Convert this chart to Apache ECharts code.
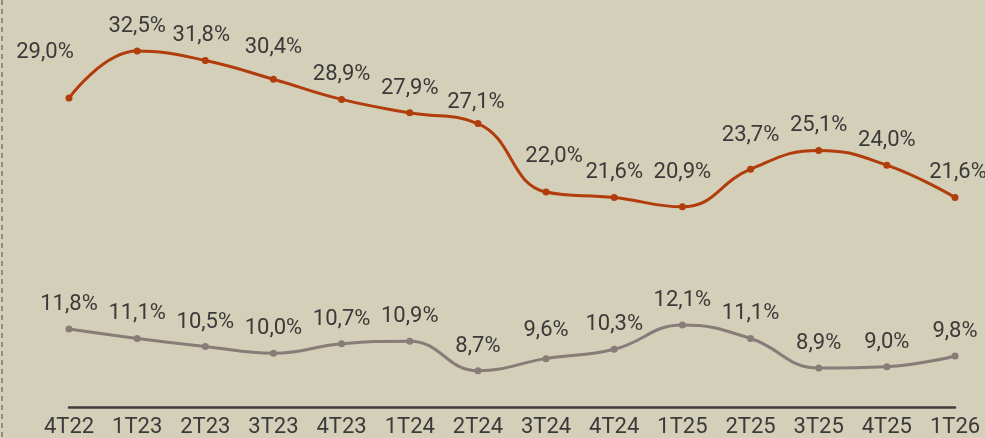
<!DOCTYPE html>
<html>
<head>
<meta charset="utf-8">
<script src="https://cdn.jsdelivr.net/npm/echarts@6/dist/echarts.min.js"></script>
<style>
html,body{margin:0;padding:0;background:#d4cfb8;}
#c{width:985px;height:438px;}
</style>
</head>
<body>
<div id="c"></div>
<script>
const categories = ['4T22','1T23','2T23','3T23','4T23','1T24','2T24','3T24','4T24','1T25','2T25','3T25','4T25','1T26'];
const seriesA = [29.0,32.5,31.8,30.4,28.9,27.9,27.1,22.0,21.6,20.9,23.7,25.1,24.0,21.6];
const seriesB = [11.8,11.1,10.5,10.0,10.7,10.9,8.7,9.6,10.3,12.1,11.1,8.9,9.0,9.8];

// label adjustments (style only)
const labelOffsetA = {0:[-24,-21], 2:[-4,0], 3:[0,-7], 6:[-2,3], 7:[8,-11], 9:[0,-10], 10:[0,-9], 13:[3,0]};
const labelOffsetB = {7:[0,-4]};

function fmt(v){ return v.toFixed(1).replace('.', ',') + '%'; }
function build(vals, offs){
  return vals.map((v,i)=>{
    const item = {value:v};
    if (offs[i]) item.label = {offset: offs[i]};
    return item;
  });
}

const chart = echarts.init(document.getElementById('c'));
const textColor = '#3b3a3a';
chart.setOption({
  backgroundColor:'#d4cfb8',
  animation:false,
  grid:{left:69,right:30,top:4,bottom:31},
  xAxis:{
    type:'category', data:categories, boundaryGap:false,
    axisLine:{lineStyle:{color:'#3e3c3b',width:2.5}},
    axisTick:{show:false},
    axisLabel:{color:textColor,fontFamily:'Roboto',fontSize:22,margin:9}
  },
  yAxis:{type:'value',min:6,max:36,show:false,splitLine:{show:false}},
  graphic:[{
    type:'line', shape:{x1:2,y1:0,x2:2,y2:438},
    style:{stroke:'#7a7874',lineWidth:1.5,lineDash:[5,4]}
  }],
  series:[
    {
      type:'line', data:build(seriesA,labelOffsetA), smooth:0.45,
      symbol:'circle', symbolSize:7,
      lineStyle:{color:'#b13d0d',width:3},
      itemStyle:{color:'#b13d0d'},
      label:{show:true,position:'top',distance:10,color:textColor,fontFamily:'Roboto',fontSize:22,
        formatter:p=>fmt(p.value)}
    },
    {
      type:'line', data:build(seriesB,labelOffsetB), smooth:0.45,
      symbol:'circle', symbolSize:7,
      lineStyle:{color:'#877c78',width:3},
      itemStyle:{color:'#877c78'},
      label:{show:true,position:'top',distance:10,color:textColor,fontFamily:'Roboto',fontSize:22,
        formatter:p=>fmt(p.value)}
    }
  ]
});
</script>
</body>
</html>
